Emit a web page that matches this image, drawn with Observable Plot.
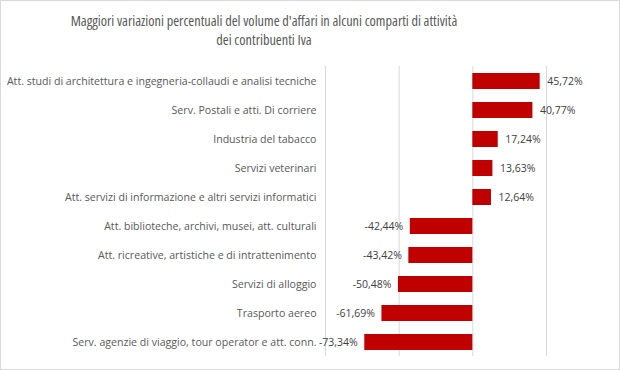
<!DOCTYPE html>
<html>
<head>
<meta charset="utf-8">
<script src="https://cdn.jsdelivr.net/npm/d3@7"></script>
<script src="https://cdn.jsdelivr.net/npm/@observablehq/plot@0.6"></script>
<style>
  html, body { margin: 0; padding: 0; background: #fff; }
  #wrap { position: relative; width: 620px; height: 370px; box-sizing: border-box; border: 1px solid #d9d9d9; background: #fff; overflow: hidden; }
  #title { width: 526px; height: 59px; box-sizing: border-box; padding-top: 9.5px; text-align: center; font-family: "Open Sans", sans-serif; font-stretch: 84%; font-size: 14.3px; line-height: 19.5px; color: #595959; }
  #chart svg { display: block; }
</style>
</head>
<body>
<div id="wrap">
  <div id="title">Maggiori variazioni percentuali del volume d'affari in alcuni comparti di attività<br>dei contribuenti Iva</div>
  <div id="chart"></div>
</div>
<script>
const categories = [
  "Att. studi di architettura e ingegneria-collaudi e analisi tecniche",
  "Serv. Postali e atti. Di corriere",
  "Industria del tabacco",
  "Servizi veterinari",
  "Att. servizi di informazione e altri servizi informatici",
  "Att. biblioteche, archivi, musei, att. culturali",
  "Att. ricreative, artistiche e di intrattenimento",
  "Servizi di alloggio",
  "Trasporto aereo",
  "Serv. agenzie di viaggio, tour operator e att. conn."
];
const values = [45.72, 40.77, 17.24, 13.63, 12.64, -42.44, -43.42, -50.48, -61.69, -73.34];
const gridTicks = [-100, -50, 0, 50];
const xDomain = [-100, 50];

const data = categories.map((c, i) => ({cat: c, v: values[i]}));
const fmt = v => v.toFixed(2).replace(".", ",") + "%";

const chart = Plot.plot({
  width: 618,
  height: 300,
  marginLeft: 324,
  marginRight: 73,
  marginTop: 6,
  marginBottom: 4,
  style: { fontFamily: "'Open Sans', sans-serif", fontSize: "10.6px", color: "#595959", background: "#fff" },
  x: { domain: xDomain, axis: null },
  y: { domain: categories, paddingInner: 0.45, paddingOuter: 0.225, label: null },
  marks: [
    Plot.ruleX(gridTicks, { stroke: "#d9d9d9", strokeWidth: 1 }),
    Plot.barX(data, { y: "cat", x: "v", fill: "#c00000" }),
    Plot.text(data.filter(d => d.v >= 0), { y: "cat", x: "v", text: d => fmt(d.v), textAnchor: "start", dx: 7, fill: "#404040", fontSize: 10.5 }),
    Plot.text(data.filter(d => d.v < 0), { y: "cat", x: "v", text: d => fmt(d.v), textAnchor: "end", dx: -7, fill: "#404040", fontSize: 10.5 }),
    Plot.axisY({ tickSize: 0, tickPadding: 9, label: null, fill: "#595959", fontSize: 10.6 })
  ]
});
document.getElementById("chart").appendChild(chart);
</script>
</body>
</html>
